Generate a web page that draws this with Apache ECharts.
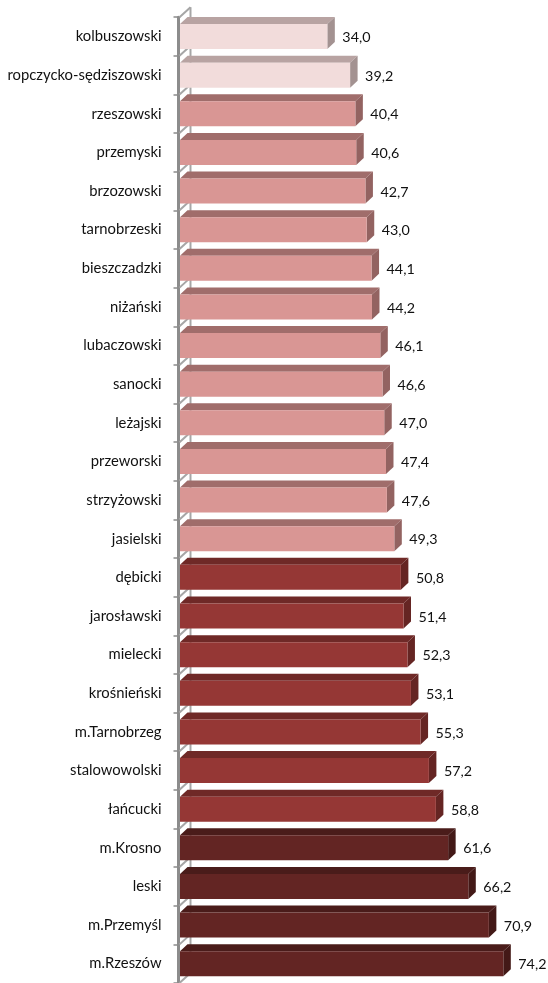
<!DOCTYPE html>
<html><head><meta charset="utf-8">
<style>html,body{margin:0;padding:0;background:#fff}#c{width:548px;height:983px}</style>
<script src="https://cdn.jsdelivr.net/npm/echarts@6/dist/echarts.min.js"></script>
</head><body><div id="c"></div>
<script>
const categories = ["kolbuszowski","ropczycko-sędziszowski","rzeszowski","przemyski","brzozowski","tarnobrzeski","bieszczadzki","niżański","lubaczowski","sanocki","leżajski","przeworski","strzyżowski","jasielski","dębicki","jarosławski","mielecki","krośnieński","m.Tarnobrzeg","stalowowolski","łańcucki","m.Krosno","leski","m.Przemyśl","m.Rzeszów"];
const values = [34.0,39.2,40.4,40.6,42.7,43.0,44.1,44.2,46.1,46.6,47.0,47.4,47.6,49.3,50.8,51.4,52.3,53.1,55.3,57.2,58.8,61.6,66.2,70.9,74.2];
const tiers = [0,0,1,1,1,1,1,1,1,1,1,1,1,1,2,2,2,2,2,2,2,3,3,3,3];
const palette = [
  {front:'#f2dcdb',top:'#b8a3a2',side:'#a39291'},
  {front:'#d99694',top:'#a06d6b',side:'#936361'},
  {front:'#953735',top:'#6f2927',side:'#652523'},
  {front:'#632523',top:'#4a1c1a',side:'#431917'}
];
const chart = echarts.init(document.getElementById('c'),null,{renderer:'canvas'});
const DX=7.5, DY=7;
const data = values.map((v,i)=>[v,i,tiers[i]]);
chart.setOption({
  animation:false,
  grid:{left:178.5,top:17.2,width:350.2,height:966.5},
  xAxis:{type:'value',min:0,max:80,show:false},
  yAxis:{type:'category',data:categories,inverse:true,
    axisLine:{show:true,lineStyle:{color:'#8c8c8c',width:3}},
    axisTick:{show:true,length:5,lineStyle:{color:'#8c8c8c',width:1.5}},
    axisLabel:{color:'#111',fontFamily:'Lato',fontSize:14.8,margin:17,interval:0,padding:[2,0,0,0]}},
  series:[
   {type:'custom',z:1,silent:true,clip:false,data:data,encode:{x:0,y:1},
    renderItem(p,api){
      const idx=api.value(1), c=api.coord([0,idx]), h=api.size([0,1])[1];
      const x=c[0]+1, t=c[1]-h/2, b=c[1]+h/2;
      const ls={stroke:'#a6a6a6',lineWidth:2,fill:null};
      const ch=[
        {type:'line',shape:{x1:x+11,y1:t-10,x2:x+11,y2:b-10},style:ls},
        {type:'line',shape:{x1:x,y1:t,x2:x+11,y2:t-10},style:ls}];
      if(idx===categories.length-1) ch.push({type:'line',shape:{x1:x,y1:b,x2:x+11,y2:b-10},style:ls});
      return {type:'group',children:ch};
    }},
   {type:'custom',z:3,silent:true,clip:false,data:data,encode:{x:0,y:1},
    renderItem(p,api){
      const v=api.value(0), idx=api.value(1), col=palette[api.value(2)];
      const a=api.coord([0,idx]), e=api.coord([v,idx]), h=api.size([0,1])[1]*0.647;
      const x0=a[0]+1.5, x1=e[0], y0=a[1]-h/2, y1=a[1]+h/2;
      return {type:'group',children:[
        {type:'polygon',shape:{points:[[x0,y0],[x0+DX,y0-DY],[x1+DX,y0-DY],[x1,y0]]},style:{fill:col.top}},
        {type:'polygon',shape:{points:[[x1,y0],[x1+DX,y0-DY],[x1+DX,y1-DY],[x1,y1]]},style:{fill:col.side}},
        {type:'rect',shape:{x:x0,y:y0,width:x1-x0,height:h},style:{fill:col.front}},
        {type:'text',style:{x:x1+15,y:a[1]+1,text:v.toFixed(1).replace('.',','),fill:'#111',font:'14.3px Lato',textAlign:'left',textVerticalAlign:'middle'}}
      ]};
    }}
  ]
});
</script></body></html>
